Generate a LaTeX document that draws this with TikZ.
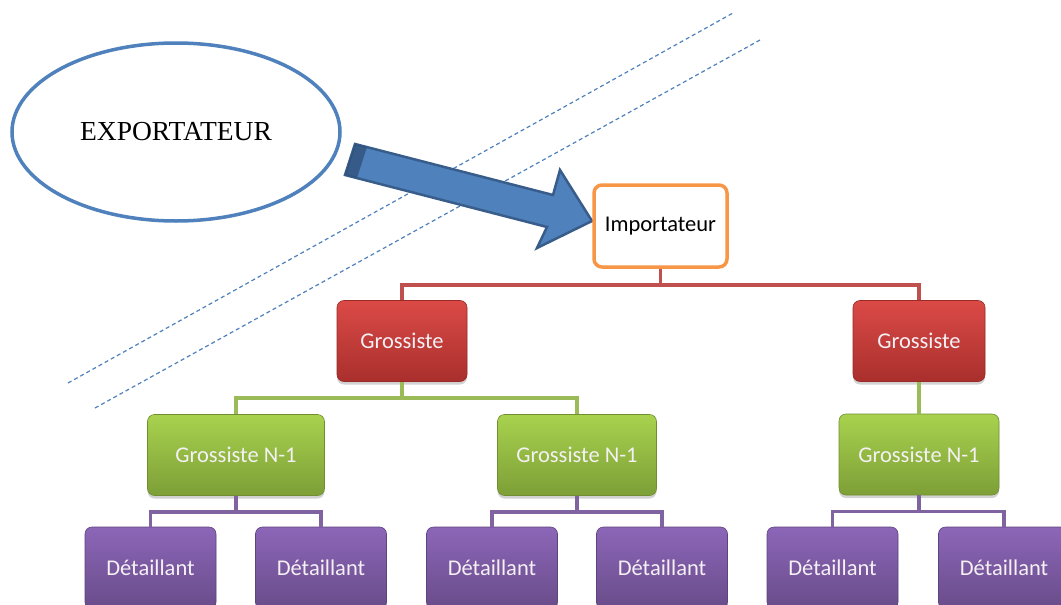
\documentclass[tikz,border=0pt]{standalone}
\usepackage{fontspec}
\setmainfont{Liberation Serif}
\newfontfamily\calfont{Carlito}
\usetikzlibrary{shapes.geometric,shadows}
\definecolor{blueacc}{HTML}{4F81BD}
\definecolor{bluedark}{HTML}{385D8A}
\definecolor{bluedeep}{HTML}{2E4F78}
\definecolor{orangeacc}{HTML}{F79646}
\definecolor{redline}{HTML}{C0504D}
\definecolor{redtop}{HTML}{DB4A47}
\definecolor{redbot}{HTML}{A92F2C}
\definecolor{greenline}{HTML}{9BBB59}
\definecolor{greentop}{HTML}{A8D24E}
\definecolor{greenbot}{HTML}{7D9F37}
\definecolor{purpleline}{HTML}{8064A2}
\definecolor{purptop}{HTML}{8C66B8}
\definecolor{purpbot}{HTML}{694C8A}
\definecolor{boxtext}{HTML}{F4F0F4}
\tikzset{
  x=1pt, y=1pt,
  base/.style={rounded corners=7pt, inner sep=0pt, font=\calfont\fontsize{22.5}{26}\selectfont,
    drop shadow={shadow xshift=0pt, shadow yshift=-3pt, opacity=0.35}},
  imbox/.style={rounded corners=8pt, inner sep=0pt, draw=orangeacc, line width=3.5pt, fill=white,
    minimum width=133pt, minimum height=82pt, font=\calfont\fontsize{22.5}{26}\selectfont, text=black},
  grbox/.style={base, top color=redtop, bottom color=redbot, draw=redbot!90!black, line width=0.6pt,
    text=boxtext, minimum height=81pt},
  gnbox/.style={base, top color=greentop, bottom color=greenbot, draw=greenbot!90!black, line width=0.6pt,
    text=boxtext, minimum height=81pt},
  dtbox/.style={base, top color=purptop, bottom color=purpbot, draw=purpbot!90!black, line width=0.6pt,
    text=boxtext, minimum width=131pt, minimum height=82pt},
  redl/.style={draw=redline, line width=3.5pt},
  greenl/.style={draw=greenline, line width=3.5pt},
  purpl/.style={draw=purpleline, line width=3.5pt},
  sep/.style={draw=blueacc, line width=1.2pt, dash pattern=on 4pt off 3pt},
}
\begin{document}
\begin{tikzpicture}
\useasboundingbox (0,0) rectangle (1061,-605);
\clip (0,0) rectangle (1061,-605);
\fill[white] (0,0) rectangle (1061,-605);

% dashed separator lines
\coordinate (s1a) at (68,-383);
\coordinate (s1b) at (733,-13);
\coordinate (s2a) at (95,-408);
\coordinate (s2b) at (760,-40);
\draw[sep] (s1a) -- (s1b);
\draw[sep] (s2a) -- (s2b);

% exporter ellipse
\node[ellipse, draw=blueacc, line width=3.5pt, fill=white, minimum width=328pt, minimum height=178pt,
  inner sep=0pt, font=\fontsize{27.5}{31}\selectfont] (exp) at (176,-132) {EXPORTATEUR};

% block arrow
\fill[blueacc, draw=bluedark, line width=2.5pt, line join=miter]
  (355,-144) -- (553,-195) -- (560,-170) -- (592,-221) -- (537,-248) -- (547,-227) -- (345,-175) -- cycle;
\fill[bluedeep, opacity=0.75] (355,-144) -- (367,-147) -- (357,-178) -- (345,-175) -- cycle;

% importer
\node[imbox] (imp) at (660.5,-226) {Importateur};

% wholesalers
\node[grbox, minimum width=130pt] (g1) at (402,-341) {Grossiste};
\node[grbox, minimum width=132pt] (g2) at (919,-341) {Grossiste};

% wholesalers N-1
\node[gnbox, minimum width=177pt] (n1) at (236,-455) {Grossiste N-1};
\node[gnbox, minimum width=159pt] (n2) at (577,-455) {Grossiste N-1};
\node[gnbox, minimum width=160pt] (n3) at (919,-454.5) {Grossiste N-1};

% retailers
\node[dtbox] (d1) at (150.5,-568) {Détaillant};
\node[dtbox] (d2) at (321,-568) {Détaillant};
\node[dtbox] (d3) at (492,-568) {Détaillant};
\node[dtbox] (d4) at (662,-568) {Détaillant};
\node[dtbox] (d5) at (832.5,-568) {Détaillant};
\node[dtbox] (d6) at (1004,-568) {Détaillant};

% connectors
\draw[redl] (imp.south) -- ++(0,-16) -| (g1.north);
\draw[redl] (imp.south) -- ++(0,-16) -| (g2.north);
\draw[greenl] (g1.south) -- ++(0,-16) -| (n1.north);
\draw[greenl] (g1.south) -- ++(0,-16) -| (n2.north);
\draw[greenl] (g2.south) -- (n3.north);
\draw[purpl] (n1.south) -- ++(0,-16) -| (d1.north);
\draw[purpl] (n1.south) -- ++(0,-16) -| (d2.north);
\draw[purpl] (n2.south) -- ++(0,-16) -| (d3.north);
\draw[purpl] (n2.south) -- ++(0,-16) -| (d4.north);
\draw[purpl] (n3.south) -- ++(0,-16) -| (d5.north);
\draw[purpl] (n3.south) -- ++(0,-16) -| (d6.north);
\end{tikzpicture}
\end{document}
